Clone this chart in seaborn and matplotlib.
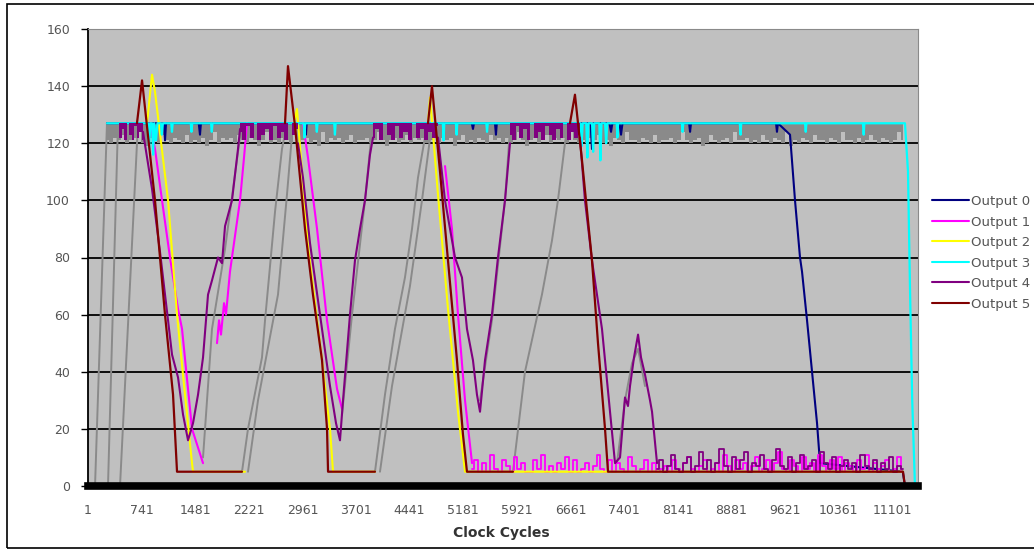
import numpy as np
import matplotlib
matplotlib.use("Agg")
import matplotlib.pyplot as plt
from matplotlib.lines import Line2D
from matplotlib.patches import Rectangle
import seaborn as sns

# ---------------- data (clock cycle, value); None separates pieces ----------------
x_tick_labels = ["1", "741", "1481", "2221", "2961", "3701", "4441", "5181",
                 "5921", "6661", "7401", "8141", "8881", "9621", "10361", "11101"]
series_names = ["Output 0", "Output 1", "Output 2", "Output 3", "Output 4", "Output 5"]

# Output 0 (navy)
out0_x = [263, 1050, 1064, 1078, 1530, 1547, 1560, 3000, 3010, 3020, 5300, 5316, 5330,
          5620, 5633, 5645, 6940, 6959, 6975, 7200, 7222, 7240, 7340, 7360, 7380,
          8300, 8313, 8326, 9500, 9513, 9526, 9693, 9762, 9831, 9859, 9928, 9997,
          10066, 10107, 11250, 11280]
out0_y = [127, 127, 121, 127, 127, 123, 127, 127, 123, 127, 127, 125, 127,
          127, 123, 127, 127, 118, 127, 127, 124, 127, 127, 123, 127,
          127, 124, 127, 127, 124, 127, 123, 100, 80, 75, 58, 40,
          22, 8, 5, 0]

# Output 1 (magenta)
out1_x = [857, 926, 1023, 1133, 1244, 1299, 1437, 1589, None,
          1782, 1810, 1837, 1879, 1906, 1961, 2044, 2100, 2155, 2196, None,
          2969, 3038, 3163, 3301, 3439, 3508, None,
          4930, 5026, 5109, 5206, 5303]
out1_y = [127, 118, 100, 80, 62, 55, 20, 8, None,
          50, 58, 53, 64, 60, 75, 90, 100, 115, 127, None,
          127, 115, 90, 58, 34, 27, None,
          112, 90, 60, 30, 8]
out1_low_start, out1_low_end = 5303, 11250
out1_low = [6, 9, 5, 8, 5, 11, 6, 5, 9, 7, 5, 10, 6, 8, 5, 5, 9, 6, 11, 5, 7, 5, 8, 6, 10,
            5, 9, 5, 6, 8, 5, 7, 11, 6, 5, 9, 5, 8, 6, 5, 10, 7, 5, 6, 9, 5, 8, 5, 6, 7,
            5, 9, 6, 5, 8, 10, 6, 5, 7, 9, 5, 6, 8, 5, 11, 7, 5, 9, 6, 8, 5, 7, 10, 5, 6,
            9, 5, 8, 12, 6, 5, 9, 7, 5, 10, 6, 8, 5, 11, 7, 5, 9, 6, 10, 5, 8, 7, 5, 9, 6,
            11, 5, 8, 6, 7, 9, 5, 6, 10, 5]

# Output 2 (yellow)
out2_x = [816, 885, 926, 1106, 1230, 1340, 1437, 1451, 2169, None,
          2845, 2886, 3038, 3232, 3342, 3384, 3963, None,
          4695, 4723, 4833, 4971, 5109, 5206, 11253]
out2_y = [127, 144, 138, 100, 60, 32, 8, 5, 5, None,
          127, 132, 84, 44, 20, 5, 5, None,
          127, 136, 102, 62, 26, 5, 5]

# Output 3 (cyan)
out3_x = [263, 830, 845, 860, 885, 900, 915, 940, 960, 1010, 1020, 1035, 1150, 1160, 1170,
          1420, 1430, 1440, 1700, 1710, 1720, 2980, 2990, 3000, 3150, 3160, 3170,
          3400, 3410, 3420, 4900, 4910, 4920, 5080, 5090, 5100, 5500, 5510, 5520,
          6800, 6815, 6830, 6880, 6895, 6910, 6960, 6975, 6990, 7060, 7075, 7090,
          7140, 7155, 7170, 7300, 7310, 7320, 8200, 8210, 8220, 9000, 9010, 9020,
          9900, 9910, 9920, 10700, 10710, 10720, 11280, 11322, 11349, 11380, 11418, 11460]
out3_y = [127, 127, 118, 127, 127, 116, 127, 121, 127, 127, 123, 127, 127, 124, 127,
          127, 124, 127, 127, 124, 127, 127, 122, 127, 127, 124, 127,
          127, 123, 127, 127, 121, 127, 127, 123, 127, 127, 124, 127,
          127, 119, 127, 127, 115, 127, 127, 117, 127, 127, 114, 127,
          127, 120, 127, 127, 122, 127, 127, 124, 127, 127, 123, 127,
          127, 124, 127, 127, 123, 127, 127, 110, 70, 30, 0, 0]

# Output 4 (purple)
out4_x = [760, 885, 995, 1106, 1161, 1244, 1313, 1382, 1451, 1520, 1589, 1658, 1713, 1796,
          1851, 1893, 1989, 2072, 2100, None,
          2900, 2969, 3066, 3204, 3342, 3425, 3480, 3522, 3618, 3687, 3756, 3825, 3894, 3936, None,
          4833, 4930, 5068, 5164, 5233, 5316, 5371, 5413, 5482, 5578, 5661, 5758, 5827, None,
          6793, 6862, 6959, 7097, 7208, 7277, 7346, 7415, 7456, 7484, 7539, 7595, 7636,
          7691, 7760, 7788, 7857]
out4_y = [124, 104, 82, 58, 46, 38, 25, 16, 22, 32, 45, 67, 72, 80,
          78, 91, 100, 118, 125, None,
          120, 108, 85, 60, 35, 22, 16, 30, 60, 79, 90, 100, 116, 122, None,
          122, 100, 80, 73, 55, 44, 32, 26, 44, 60, 80, 100, 120, None,
          122, 100, 79, 55, 26, 8, 10, 31, 28, 35, 45, 53, 45,
          39, 30, 26, 8]
out4_band_A = (415, 760, [127, 122, 125, 121, 127, 123, 121, 126, 122, 124, 121])
out4_band_C = (2100, 2900, [124, 121, 126, 122, 127, 121, 123, 125, 121, 126, 122, 124,
                            121, 127, 123, 125])
out4_band_E = (3936, 4833, [122, 125, 121, 127, 123, 121, 126, 122, 124, 121, 127, 122,
                            125, 121, 124, 122, 126])
out4_band_G = (5827, 6793, [123, 121, 126, 122, 125, 121, 127, 122, 124, 121, 126, 123,
                            121, 125, 122, 127, 121, 124, 122, 123])
out4_low_start, out4_low_end = 7857, 11250
out4_low = [6, 9, 5, 7, 11, 6, 5, 8, 10, 5, 7, 12, 6, 9, 5, 8, 13, 7, 5, 10, 6, 9, 12, 5, 8,
            7, 11, 6, 5, 9, 13, 7, 6, 10, 5, 8, 11, 6, 7, 9, 5, 12, 8, 6, 10, 5, 7, 9, 6, 8,
            5, 11, 7, 6, 9, 5, 8, 6, 10, 5, 7, 6]

# Output 5 (maroon)
out5_x = [677, 747, 926, 1064, 1175, 1230, 2127, None,
          2721, 2762, 2859, 2997, 3107, 3232, 3301, 3315, 3963, None,
          4695, 4750, 4861, 4971, 5095, 5178, 5233, 5868, None,
          6655, 6724, 6821, 6959, 7042, 7139, 7180, 11253, 11280, 11460]
out5_y = [127, 142, 100, 60, 32, 5, 5, None,
          127, 147, 126, 90, 67, 44, 20, 5, 5, None,
          127, 140, 110, 79, 44, 18, 5, 5, None,
          127, 137, 114, 79, 50, 20, 5, 5, 0, 0]

# grey rising ramps (not in legend)
grey_x = [98, 263, None, 277, 415, None, 443, 691, None,
          1589, 1713, 1893, 2072, 2127, None,
          2127, 2210, 2403, 2445, 2583, 2679, 2748, None,
          2210, 2348, 2624, 2748, 2831, None,
          3508, 3646, 3825, 3922, None,
          3963, 4101, 4239, 4377, 4474, 4557, 4653, 4695, None,
          4032, 4198, 4446, 4612, 4750, None,
          5413, 5578, 5758, 5827, None,
          5868, 6034, 6268, 6407, 6489, 6586, 6628, None,
          7304, 7415, 7512, 7595, 7691]
grey_y = [0, 127, None, 0, 127, None, 0, 127, None,
          10, 55, 83, 117, 127, None,
          5, 20, 45, 58, 96, 118, 127, None,
          5, 30, 67, 102, 127, None,
          25, 60, 100, 125, None,
          5, 32, 55, 73, 90, 108, 122, 127, None,
          5, 35, 70, 100, 127, None,
          30, 58, 100, 125, None,
          5, 40, 67, 86, 100, 120, 127, None,
          8, 30, 43, 48, 35]

# grey saturated band (lower edge of the noise just under 127)
grey_band_start, grey_band_end = 263, 11250
grey_band = [
    121, 120, 122, 121, 123, 120, 121, 122, 124, 120, 119, 122, 121, 120, 123, 121, 120, 122, 121, 120,
    123, 120, 121, 120, 122, 119, 121, 124, 120, 122, 121, 122, 120, 123, 121, 120, 122, 121, 119, 121,
    124, 120, 121, 120, 122, 121, 120, 123, 120, 121, 122, 120, 121, 119, 124, 120, 122, 121, 122, 120,
    121, 123, 120, 121, 121, 122, 120, 121, 124, 121, 119, 121, 122, 120, 121, 123, 120, 122, 121, 122,
    120, 121, 124, 120, 122, 121, 122, 119, 121, 123, 120, 121, 120, 122, 121, 120, 123, 121, 122, 120,
    122, 120, 121, 124, 121, 119, 121, 122, 120, 121, 123, 120, 122, 121, 122, 120, 124, 121, 120, 121,
    120, 122, 121, 123, 120, 121, 119, 122, 121, 120, 124, 121, 121, 120, 122, 121, 120, 123, 120, 121,
    121, 122, 120, 121, 124, 121, 120, 121, 122, 119, 120, 123, 121, 120, 121, 122, 120, 124, 121, 121,
    122, 120, 121, 120, 123, 121, 120, 122, 121, 120, 124, 119, 121, 120, 122, 121, 120, 123, 121, 121,
    120, 122, 121, 120, 124, 121, 121, 120, 122, 120, 121, 123, 121, 120, 122, 121, 120, 121, 124, 121]

colors = ["#000080", "#FF00FF", "#FFFF00", "#00FFFF", "#800080", "#800000"]
grey_color = "#8a8a8a"

# ---------------- drawing ----------------
sns.set_theme(style="white")
plt.rcParams['font.family'] = ['DejaVu Sans']

W, H = 1034, 552
fig = plt.figure(figsize=(W / 100, H / 100), dpi=100)
fig.patch.set_facecolor("white")
ax = fig.add_axes([88 / W, 66 / H, 830 / W, 457 / H])
ax.set_facecolor("#C0C0C0")


def pieces(xs, ys):
    segs, cx, cy = [], [], []
    for x, y in zip(xs, ys):
        if x is None:
            if cx:
                segs.append((cx, cy))
            cx, cy = [], []
        else:
            cx.append(x)
            cy.append(y)
    if cx:
        segs.append((cx, cy))
    return segs


def draw(xs, ys, color, lw=1.5, z=3, ds="default"):
    for sx, sy in pieces(xs, ys):
        sns.lineplot(x=sx, y=sy, color=color, linewidth=lw, ax=ax, estimator=None,
                     sort=False, zorder=z, drawstyle=ds, legend=False)


def band_fill(start, end, vals, color, z):
    xs = np.linspace(start, end, len(vals))
    ax.fill_between(xs, vals, 127, step="mid", color=color, lw=0, zorder=z)


def low_noise(start, end, vals, color, z):
    xs = np.linspace(start, end, len(vals))
    sns.lineplot(x=xs, y=vals, color=color, linewidth=1.3, ax=ax, estimator=None,
                 sort=False, zorder=z, drawstyle="steps-mid", legend=False)


# gridlines
for v in range(20, 160, 20):
    ax.axhline(v, color="black", lw=1.3, zorder=1)

band_fill(grey_band_start, grey_band_end, grey_band, grey_color, 2)
draw(grey_x, grey_y, grey_color, lw=1.4, z=2)

draw(out0_x, out0_y, colors[0], lw=1.5, z=3)
low_noise(out1_low_start, out1_low_end, out1_low, colors[1], 4)
draw(out1_x, out1_y, colors[1], lw=1.5, z=4)
draw(out2_x, out2_y, colors[2], lw=1.5, z=5)
draw(out3_x, out3_y, colors[3], lw=1.6, z=6)
for bs, be, bv in (out4_band_A, out4_band_C, out4_band_E, out4_band_G):
    band_fill(bs, be, bv, colors[4], 7)
low_noise(out4_low_start, out4_low_end, out4_low, colors[4], 7)
draw(out4_x, out4_y, colors[4], lw=1.5, z=7)
draw(out5_x, out5_y, colors[5], lw=1.6, z=8)

# axes styling
ax.set_xlim(1, 11460)
ax.set_ylim(0, 160)
ax.set_yticks(range(0, 161, 20))
ax.set_xticks([int(t) for t in x_tick_labels])
ax.set_xticklabels(x_tick_labels)
ax.tick_params(axis="y", direction="out", length=5, width=1, color="black",
               labelsize=9, labelcolor="#555555", pad=8, left=True)
ax.tick_params(axis="x", length=0, labelsize=9, labelcolor="#555555", pad=13)
ax.set_xlabel("")
ax.set_ylabel("")
for side in ("top", "right"):
    ax.spines[side].set_color("#8a8a8a")
    ax.spines[side].set_linewidth(0.8)
ax.spines["left"].set_color("black")
ax.spines["left"].set_linewidth(1.3)
ax.spines["bottom"].set_color("black")
ax.spines["bottom"].set_linewidth(5.5)
ax.spines["bottom"].set_zorder(9)

fig.text(501 / W, 1 - 533 / H, "Clock Cycles", ha="center", va="center",
         fontsize=10, fontweight="bold", color="#333333")

handles = [Line2D([], [], color=c, lw=1.5) for c in colors]
fig.legend(handles, series_names, loc="upper left",
           bbox_to_anchor=(932 / W, 1 - 195 / H), bbox_transform=fig.transFigure,
           frameon=False, fontsize=9.5, handlelength=2.8, handletextpad=0.12,
           labelspacing=0.57, borderpad=0, borderaxespad=0, labelcolor="#555555")

fig.add_artist(Rectangle((7 / W, 4 / H), (W + 10 - 7) / W, 544 / H,
                         transform=fig.transFigure, fill=False, ec="black", lw=1.2))

fig.savefig("out.png", dpi=100, facecolor="white")
